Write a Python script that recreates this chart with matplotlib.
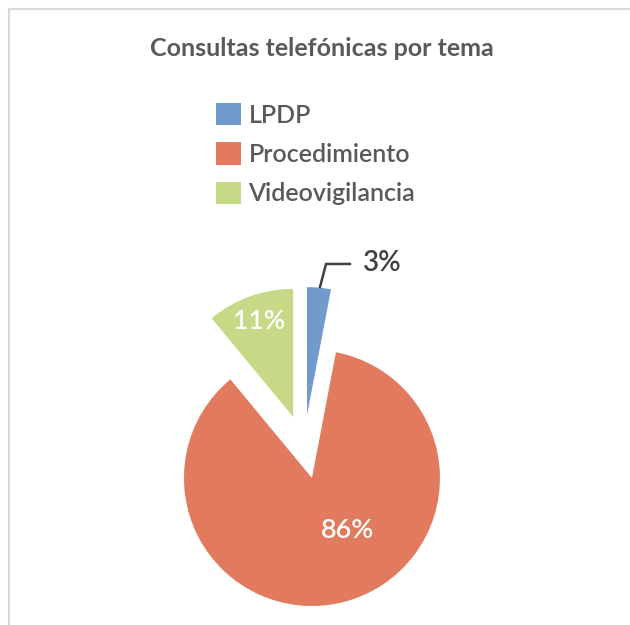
import matplotlib
matplotlib.use("Agg")
import matplotlib.pyplot as plt
from matplotlib.patches import Rectangle

categories = ["LPDP", "Procedimiento", "Videovigilancia"]
values = [3, 86, 11]
colors = ["#709BCC", "#E27B5E", "#C5D986"]
title = "Consultas telefónicas por tema"

plt.rcParams['font.family'] = ['Lato', 'DejaVu Sans']

fig = plt.figure(figsize=(6.3, 6.25), dpi=100)
ax = fig.add_axes([0, 0, 1, 1])
ax.set_axis_off()

wedges, _ = ax.pie(values, colors=colors, startangle=90, counterclock=False,
                   explode=[0.25, 0.25, 0.25], radius=1.0,
                   wedgeprops=dict(linewidth=0))

ax.set_xlim(-304 / 128, (630 - 304) / 128)
ax.set_ylim(-(625 - 447) / 128, 447 / 128)
ax.set_aspect('auto')

# data labels
ax.text(-0.352, 0.977, f"{values[2]}%", color="white", fontsize=19,
        fontweight="semibold", ha="center", va="center")
ax.text(0.336, -0.656, f"{values[1]}%", color="white", fontsize=19.5,
        fontweight="semibold", ha="center", va="center")
ax.plot([0.125, 0.172, 0.359], [1.25, 1.43, 1.43], color="#404040", lw=1.8)
ax.text(0.46, 1.44, f"{values[0]}%", color="#404040", fontsize=20,
        fontweight="semibold", ha="left", va="center")

fig.text(322 / 630, 1 - 49 / 625, title, ha="center", va="center",
         fontsize=18, fontweight="bold", color="#595959")

leg = fig.legend(wedges, categories, loc="upper left",
                 bbox_to_anchor=(216 / 630, 1 - 103 / 625),
                 frameon=False, prop=dict(size=18, weight="semibold"),
                 handlelength=1.0, handleheight=1.0, labelspacing=0.62,
                 handletextpad=0.3, borderpad=0, borderaxespad=0)
for t in leg.get_texts():
    t.set_color("#595959")

fig.patches.append(Rectangle((9 / 630, -0.1), 1.2, 1 - 9 / 625 + 0.1,
                             transform=fig.transFigure, fill=False,
                             edgecolor="#D9D9D9", lw=1.5))

fig.savefig("out.png", dpi=100)
